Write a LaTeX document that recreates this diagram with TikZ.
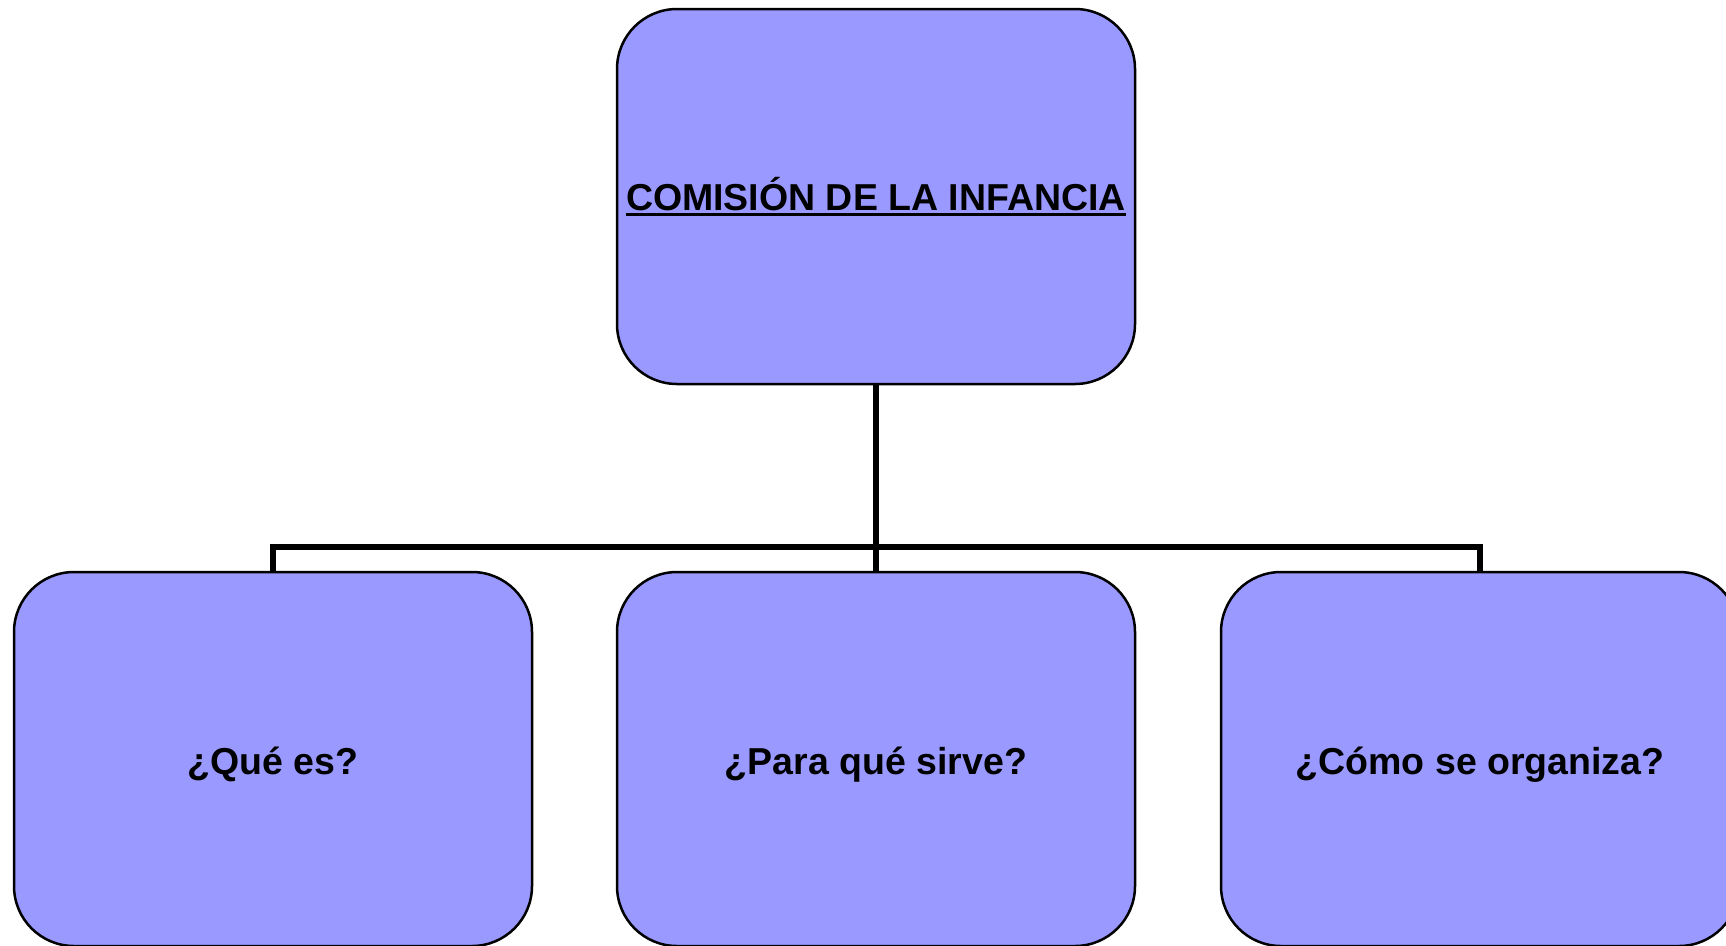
\documentclass[tikz,border=0pt]{standalone}
\usepackage{fontspec}
\setmainfont{Liberation Sans}
\definecolor{boxblue}{HTML}{9999FF}
\newcommand{\myul}[1]{{\setbox0\hbox{#1}\rlap{\rule[-6pt]{\wd0}{3pt}}\box0}}
\begin{document}
\begin{tikzpicture}[x=1pt,y=-1pt,
  box/.style={draw=black,fill=boxblue,line width=2.5pt,rounded corners=60pt,
    minimum width=518pt,minimum height=375pt,inner sep=0pt,
    font=\fontsize{37.5}{44}\selectfont\bfseries,text=black},
  lowbox/.style={box,minimum height=374pt,text height=31pt,text depth=0pt},
  conn/.style={draw=black,line width=6pt}]
\useasboundingbox (0,0) rectangle (1726,945);
\node[box] (top) at (876,196.5) {\myul{COMISIÓN DE LA INFANCIA}};
\node[lowbox] (q) at (273,759) {¿Qué es?};
\node[lowbox] (p) at (876,759) {¿Para qué sirve?};
\node[lowbox] (c) at (1480,759) {¿Cómo se organiza?};
\coordinate (bar) at (0,547);
\draw[conn] (top.south) -- (p.north);
\draw[conn] (q.north) -- (q.north |- bar) -- (c.north |- bar) -- (c.north);
\end{tikzpicture}
\end{document}
